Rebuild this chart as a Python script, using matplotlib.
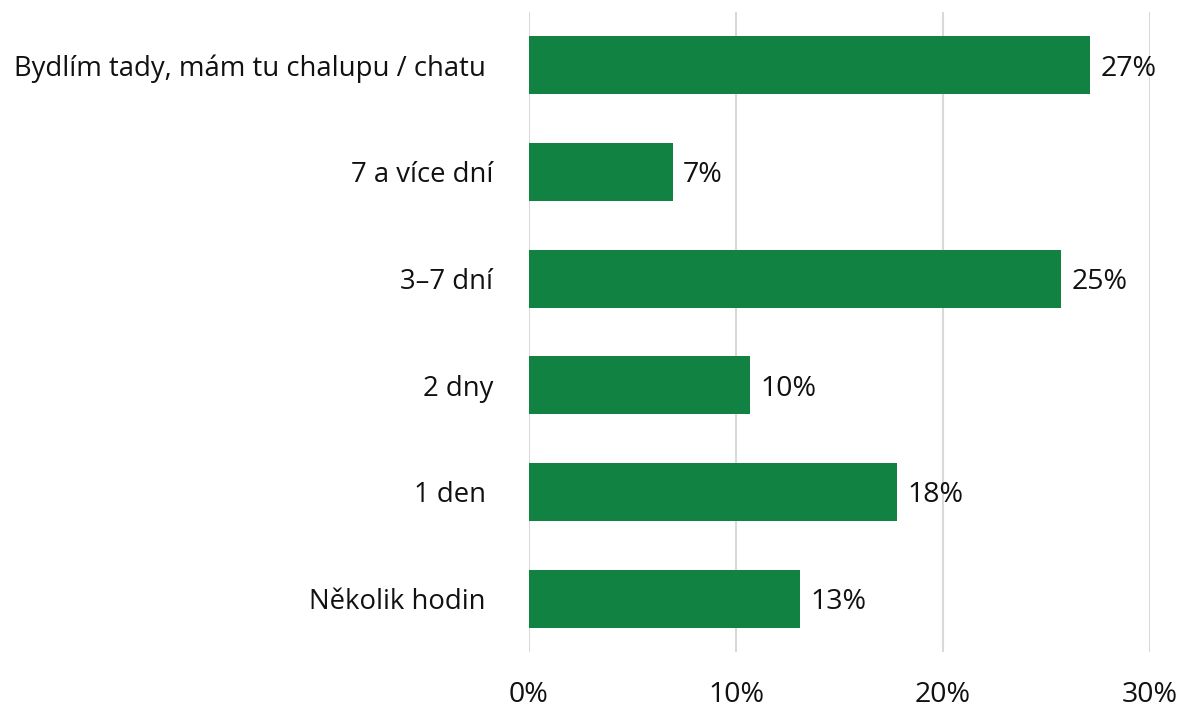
import matplotlib.pyplot as plt
from matplotlib.ticker import FuncFormatter

categories = ['Bydlím tady, mám tu chalupu / chatu ', '7 a více dní', '3–7 dní',
              '2 dny', '1 den ', 'Několik hodin ']
values = [27.1, 6.95, 25.7, 10.7, 17.8, 13.1]
value_labels = ['27%', '7%', '25%', '10%', '18%', '13%']
x_ticks = [0, 10, 20, 30]

plt.rcParams['font.family'] = ['Open Sans', 'DejaVu Sans']

fig = plt.figure(figsize=(11.81, 7.08), dpi=100)
ax = fig.add_axes([529 / 1181, 1 - 652 / 708, (1150 - 529) / 1181, (652 - 12) / 708])

green = '#118241'
ypos = list(range(len(categories)))
ax.barh(ypos, values, height=0.545, color=green, zorder=3)

# value labels right of each bar
for y, v, lab in zip(ypos, values, value_labels):
    ax.text(v + 0.5, y + 0.03, lab, va='center', ha='left', fontsize=20.5, color='#111111')

ax.set_xlim(0, 30)
ax.set_ylim(5.5, -0.5)
ax.set_yticks(ypos)
ax.set_yticklabels(categories, fontsize=19.8, color='#111111')
ax.set_xticks(x_ticks)
ax.xaxis.set_major_formatter(FuncFormatter(lambda v, p: f'{v:.0f}%'))
ax.tick_params(axis='x', length=0, pad=21, labelsize=20.5, labelcolor='#111111')
ax.tick_params(axis='y', length=0, pad=26)
ax.grid(axis='x', color='#d9d9d9', linewidth=1.5, zorder=0)
for s in ax.spines.values():
    s.set_visible(False)

fig.savefig('out.png', dpi=100)
